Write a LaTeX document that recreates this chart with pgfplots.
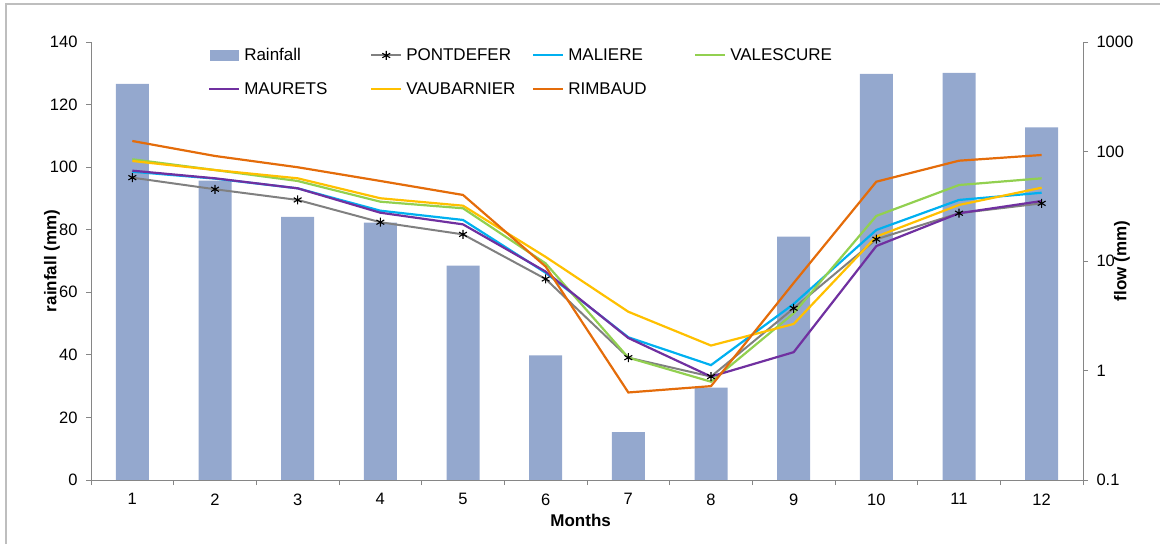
\documentclass[border=0pt]{standalone}
\usepackage{pgfplots}
\pgfplotsset{compat=1.18}
\usepackage{fontspec}
\setmainfont{Liberation Sans}
\definecolor{barc}{RGB}{148,168,206}
\definecolor{axc}{RGB}{134,134,134}
\definecolor{cpont}{RGB}{128,128,128}
\definecolor{cmal}{RGB}{0,176,240}
\definecolor{cval}{RGB}{146,208,80}
\definecolor{cmau}{RGB}{112,48,160}
\definecolor{cvau}{RGB}{255,192,0}
\definecolor{crim}{RGB}{228,108,10}
\definecolor{framec}{RGB}{190,190,190}
\begin{document}
\begin{tikzpicture}[x=1pt,y=1pt]
\useasboundingbox (0,0) rectangle (1160,544);
\draw[framec,line width=1.5pt] (6,0) -- (6,540) -- (1160,540);
\pgfplotsset{
  common/.style={
    scale only axis, width=992pt, height=438pt,
    at={(91pt,64pt)}, anchor=south west,
    xmin=0.5, xmax=12.5,
    tick label style={font=\fontsize{16.5}{18}\selectfont},
    label style={font=\bfseries\fontsize{17}{19}\selectfont},
    axis line style={axc, line width=0.8pt},
    every tick/.style={axc, line width=0.8pt},
    tick align=outside,
    /pgf/number format/assume math mode=true,
  }
}
\begin{axis}[common,
  axis y line*=left, axis x line*=bottom,
  ymin=0, ymax=140, ytick={0,20,...,140},
  xtick={1,...,12}, major x tick style={draw=none},
  minor xtick={0.5,1.5,...,12.5},
  major tick length=5pt, minor tick length=5pt,
  xlabel={Months}, ylabel={rainfall (mm)},
  xlabel style={at={(0.4936,-0.0925)}, anchor=center},
  ylabel style={at={(-0.0393,0.5)}, anchor=center},
  yticklabel style={xshift=-5pt},
  xticklabel style={yshift=-5pt},
]
\addplot[ybar, bar width=33pt, fill=barc, draw=none] coordinates {
(1,126.6) (2,95.7) (3,84.1) (4,82.3) (5,68.5) (6,39.8) (7,15.3) (8,29.5) (9,77.8) (10,129.8) (11,130.1) (12,112.7)};
\end{axis}
\begin{axis}[common,
  axis y line*=right, axis x line=none,
  ymode=log, ymin=0.1, ymax=1000,
  ytick={0.1,1,10,100,1000}, yticklabels={0.1,1,10,100,1000},
  yminorticks=false,
  major tick length=5pt,
  ylabel={flow (mm)},
  ylabel style={at={(1.0393,0.5)}, anchor=center, rotate=0},
  yticklabel style={xshift=5pt},
  every axis plot/.append style={line width=2.2pt, mark=none},
  legend columns=4,
  legend cell align=left,
  legend style={draw=none, fill=none, at={(0.118,0.99)}, anchor=north west,
    font=\fontsize{17}{19}\selectfont, text width=124pt, inner sep=0pt,
    /tikz/every odd column/.append style={column sep=2pt},
    row sep=16pt},
  legend image code/.code={\draw[#1, line width=2pt, mark repeat=2, mark phase=2] plot coordinates {(0pt,0pt) (15pt,0pt) (30pt,0pt)};},
]
\addlegendimage{legend image code/.code={\fill[barc] (2pt,-4.5pt) rectangle (29pt,4.5pt);}}
\addlegendentry{Rainfall}
\addplot[cpont, line width=2pt, mark=asterisk, mark size=4.5pt, mark options={black, line width=1.1pt}] coordinates {
(1,57.7) (2,45.2) (3,36.1) (4,22.6) (5,17.5) (6,6.85) (7,1.31) (8,0.88) (9,3.70) (10,15.8) (11,27.3) (12,33.6)};
\addlegendentry{PONTDEFER}
\addplot[cmal] coordinates {
(1,65.4) (2,56.5) (3,46.1) (4,28.8) (5,23.7) (6,7.8) (7,2.01) (8,1.12) (9,4.05) (10,19.2) (11,36.1) (12,42.0)};
\addlegendentry{MALIERE}
\addplot[cval] coordinates {
(1,84.9) (2,67.7) (3,53.8) (4,34.8) (5,30.3) (6,9.5) (7,1.31) (8,0.79) (9,3.33) (10,25.8) (11,49.4) (12,56.9)};
\addlegendentry{VALESCURE}
\addplot[cmau] coordinates {
(1,66.8) (2,56.9) (3,46.1) (4,27.6) (5,21.6) (6,8.0) (7,1.98) (8,0.88) (9,1.47) (10,13.7) (11,27.3) (12,35.3)};
\addlegendentry{MAURETS}
\addplot[cvau] coordinates {
(1,81.9) (2,67.7) (3,56.9) (4,37.4) (5,32.0) (6,10.9) (7,3.44) (8,1.69) (9,2.66) (10,16.7) (11,32.5) (12,46.7)};
\addlegendentry{VAUBARNIER}
\addplot[crim] coordinates {
(1,124.7) (2,91.0) (3,71.8) (4,53.8) (5,40.1) (6,8.9) (7,0.63) (8,0.72) (9,6.3) (10,53) (11,82.4) (12,92.9)};
\addlegendentry{RIMBAUD}
\end{axis}
\end{tikzpicture}
\end{document}
